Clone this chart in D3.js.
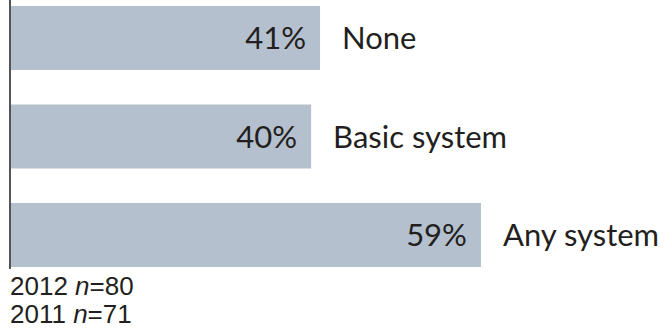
<!DOCTYPE html>
<html>
<head>
<meta charset="utf-8">
<script src="https://cdn.jsdelivr.net/npm/d3@7"></script>
<style>
  html, body { margin: 0; padding: 0; background: #fff; }
  svg { display: block; }
</style>
</head>
<body>
<svg id="chart" width="666" height="334"></svg>
<script>
// Share of respondents by system type
const categories = ["None", "Basic system", "Any system"];
const values = [41, 40, 59];
const valueLabels = ["41%", "40%", "59%"];
const footnotes = [["2012", "n", "=80"], ["2011", "n", "=71"]];

const svg = d3.select("#chart");
const axisX = 10;

// Value scale (percent -> pixels); bars are drawn from the axis line
const x = d3.scaleLinear().domain([0, 100]).range([-46.5, 847.5]);

const y = d3.scaleBand()
  .domain(categories)
  .range([6, 267])
  .paddingInner(0.35)
  .paddingOuter(0);

const barColor = "#b4c0cd";
const textColor = "#231f20";
const labelFont = "Lato, 'Open Sans', sans-serif";

const rows = categories.map((c, i) => ({ cat: c, v: values[i], lab: valueLabels[i] }));

const g = svg.append("g");

g.selectAll("rect.bar")
  .data(rows)
  .join("rect")
  .attr("class", "bar")
  .attr("x", axisX)
  .attr("y", d => y(d.cat))
  .attr("width", d => x(d.v) - axisX)
  .attr("height", y.bandwidth())
  .attr("fill", barColor);

// Value labels inside the bars
g.selectAll("text.val")
  .data(rows)
  .join("text")
  .attr("class", "val")
  .attr("x", d => x(d.v) - 14)
  .attr("y", d => y(d.cat) + y.bandwidth() / 2 + 11)
  .attr("text-anchor", "end")
  .attr("font-family", labelFont)
  .attr("font-size", 31)
  .attr("fill", textColor)
  .text(d => d.lab);

// Category labels beside the bars
g.selectAll("text.cat")
  .data(rows)
  .join("text")
  .attr("class", "cat")
  .attr("x", d => x(d.v) + 22)
  .attr("y", d => y(d.cat) + y.bandwidth() / 2 + 11)
  .attr("font-family", labelFont)
  .attr("font-size", 31)
  .attr("fill", textColor)
  .text(d => d.cat);

// Vertical axis line
const yAxis = d3.axisLeft(y).tickSize(0).tickFormat("");
const axisG = svg.append("g")
  .attr("transform", `translate(${axisX},0)`)
  .call(yAxis);
axisG.select(".domain")
  .attr("d", `M0,0V269`)
  .attr("stroke", "#555")
  .attr("stroke-width", 2);

// Sample-size notes
const notes = svg.append("g");
footnotes.forEach((f, i) => {
  const t = notes.append("text")
    .attr("x", 10)
    .attr("y", 295 + i * 28)
    .attr("font-family", "'Liberation Sans', Arial, sans-serif")
    .attr("font-size", 26)
    .attr("fill", textColor);
  t.append("tspan").text(f[0] + " ");
  t.append("tspan").attr("font-style", "italic").text(f[1]);
  t.append("tspan").text(f[2]);
});
</script>
</body>
</html>
